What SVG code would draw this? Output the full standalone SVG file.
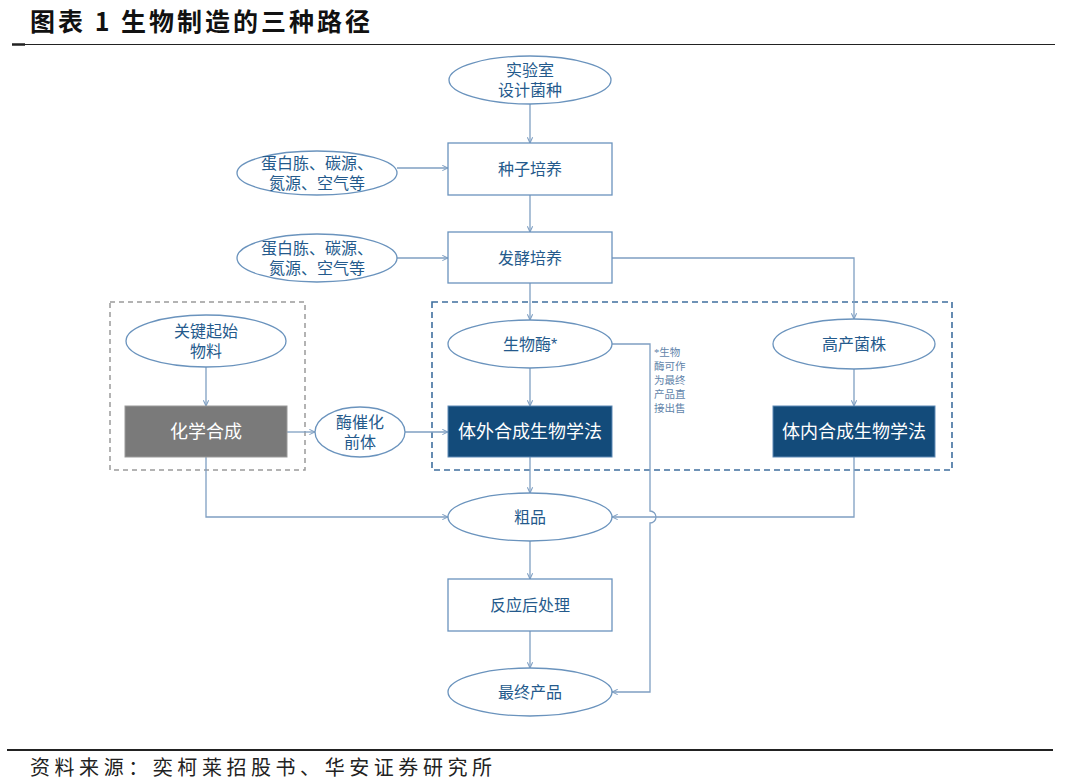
<svg xmlns="http://www.w3.org/2000/svg" width="1080" height="781" viewBox="0 0 1080 781">
<style>
.t{font-family:"Liberation Sans","Noto Sans CJK SC",sans-serif;}
.lbl{font-size:16px;fill:#245a8c;text-anchor:middle;dominant-baseline:central;font-family:"Liberation Sans","Noto Sans CJK SC",sans-serif;}
.wl{font-size:18px;fill:#ffffff;text-anchor:middle;dominant-baseline:central;font-family:"Liberation Sans","Noto Sans CJK SC",sans-serif;}
.nd{fill:#ffffff;stroke:#6a93bd;stroke-width:1.3;}
.dk{fill:#134b7a;stroke:#5f8ab6;stroke-width:1;}
.gy{fill:#7a7a7a;stroke:#9a9a9a;stroke-width:1;}
.cn{fill:none;stroke:#7f9fc2;stroke-width:1.3;}
.note{font-size:10.5px;fill:#5f84aa;font-family:"Liberation Serif","Noto Sans CJK SC",serif;}
</style>
<defs>
<marker id="ah" viewBox="0 0 8 8" refX="7.5" refY="4" markerWidth="7" markerHeight="7" orient="auto" markerUnits="userSpaceOnUse">
<path d="M1,1 L7.5,4 L1,7" fill="none" stroke="#7f9fc2" stroke-width="1.2"/>
</marker>
</defs>
<rect width="1080" height="781" fill="#ffffff"/>
<g id="header">
<text x="30" y="31" font-size="25" font-weight="bold" fill="#111" letter-spacing="3" font-family="'Noto Sans CJK SC','Liberation Sans',sans-serif">图表 1 生物制造的三种路径</text>
<line x1="12" y1="44.5" x2="1055" y2="44.5" stroke="#222" stroke-width="1.2"/>
<line x1="12" y1="44.5" x2="25" y2="44.5" stroke="#222" stroke-width="2.5"/>
</g>
<g id="groups">
<rect x="110" y="302" width="195" height="168" fill="none" stroke="#9a9a9a" stroke-width="1.5" stroke-dasharray="5,4"/>
<rect x="432" y="302" width="520" height="168" fill="none" stroke="#3f6f9f" stroke-width="1.6" stroke-dasharray="6,4"/>
</g>
<g id="connectors">
<path class="cn" d="M530,104 L530,143" marker-end="url(#ah)"/>
<path class="cn" d="M397,168 L448,168" marker-end="url(#ah)"/>
<path class="cn" d="M530,195 L530,232" marker-end="url(#ah)"/>
<path class="cn" d="M397,258 L448,258" marker-end="url(#ah)"/>
<path class="cn" d="M612,258 L854,258 L854,319" marker-end="url(#ah)"/>
<path class="cn" d="M530,283 L530,320" marker-end="url(#ah)"/>
<path class="cn" d="M206,367 L206,406" marker-end="url(#ah)"/>
<path class="cn" d="M530,368 L530,406" marker-end="url(#ah)"/>
<path class="cn" d="M854,369 L854,406" marker-end="url(#ah)"/>
<path class="cn" d="M287,432 L315,432" marker-end="url(#ah)"/>
<path class="cn" d="M405,432 L448,432" marker-end="url(#ah)"/>
<path class="cn" d="M206,457 L206,517 L448,517" marker-end="url(#ah)"/>
<path class="cn" d="M854,457 L854,517 L612,517" marker-end="url(#ah)"/>
<path class="cn" d="M530,457 L530,493" marker-end="url(#ah)"/>
<path class="cn" d="M530,541 L530,579" marker-end="url(#ah)"/>
<path class="cn" d="M530,631 L530,668" marker-end="url(#ah)"/>
<path class="cn" d="M612,344 L650,344 L650,511 A6,6 0 0 1 650,523 L650,692 L612,692" marker-end="url(#ah)"/>
</g>
<g id="n-lab"><ellipse class="nd" cx="530" cy="80" rx="81" ry="24"/><text class="lbl" x="530" y="70">实验室</text><text class="lbl" x="530" y="90">设计菌种</text></g>
<g id="n-seed"><rect class="nd" x="448" y="143" width="164" height="52"/><text class="lbl" x="530" y="169">种子培养</text></g>
<g id="n-in1"><ellipse class="nd" cx="317" cy="173" rx="80" ry="22"/><text class="lbl" x="317" y="163">蛋白胨、碳源、</text><text class="lbl" x="317" y="183">氮源、空气等</text></g>
<g id="n-ferm"><rect class="nd" x="448" y="232" width="164" height="51"/><text class="lbl" x="530" y="258">发酵培养</text></g>
<g id="n-in2"><ellipse class="nd" cx="317" cy="258" rx="80" ry="24"/><text class="lbl" x="317" y="248">蛋白胨、碳源、</text><text class="lbl" x="317" y="268">氮源、空气等</text></g>
<g id="n-start"><ellipse class="nd" cx="206" cy="341" rx="80" ry="26"/><text class="lbl" x="206" y="331">关键起始</text><text class="lbl" x="206" y="351">物料</text></g>
<g id="n-chem"><rect class="gy" x="125" y="406" width="162" height="51"/><text class="wl" x="206" y="432">化学合成</text></g>
<g id="n-prec"><ellipse class="nd" cx="360" cy="432" rx="45" ry="25"/><text class="lbl" x="360" y="422">酶催化</text><text class="lbl" x="360" y="442">前体</text></g>
<g id="n-enz"><ellipse class="nd" cx="530" cy="344" rx="82" ry="24"/><text class="lbl" x="530" y="344">生物酶*</text></g>
<g id="n-note"><text class="note" x="654" y="356">*生物</text><text class="note" x="654" y="370">酶可作</text><text class="note" x="654" y="384">为最终</text><text class="note" x="654" y="398">产品直</text><text class="note" x="654" y="412">接出售</text></g>
<g id="n-vitro"><rect class="dk" x="448" y="406" width="164" height="51"/><text class="wl" x="530" y="432">体外合成生物学法</text></g>
<g id="n-strain"><ellipse class="nd" cx="854" cy="344" rx="81" ry="25"/><text class="lbl" x="854" y="344">高产菌株</text></g>
<g id="n-vivo"><rect class="dk" x="773" y="406" width="162" height="51"/><text class="wl" x="854" y="432">体内合成生物学法</text></g>
<g id="n-crude"><ellipse class="nd" cx="530" cy="517" rx="82" ry="24"/><text class="lbl" x="530" y="517">粗品</text></g>
<g id="n-post"><rect class="nd" x="448" y="579" width="164" height="52"/><text class="lbl" x="530" y="605">反应后处理</text></g>
<g id="n-final"><ellipse class="nd" cx="530" cy="692" rx="82" ry="24"/><text class="lbl" x="530" y="692">最终产品</text></g>
<g id="footer">
<line x1="7" y1="750" x2="1053" y2="750" stroke="#222" stroke-width="2"/>
<text x="30" y="775" font-size="20" fill="#222" textLength="462" lengthAdjust="spacing" font-family="'Liberation Serif','Noto Sans CJK SC',serif">资料来源：奕柯莱招股书、华安证券研究所</text>
</g>
</svg>
